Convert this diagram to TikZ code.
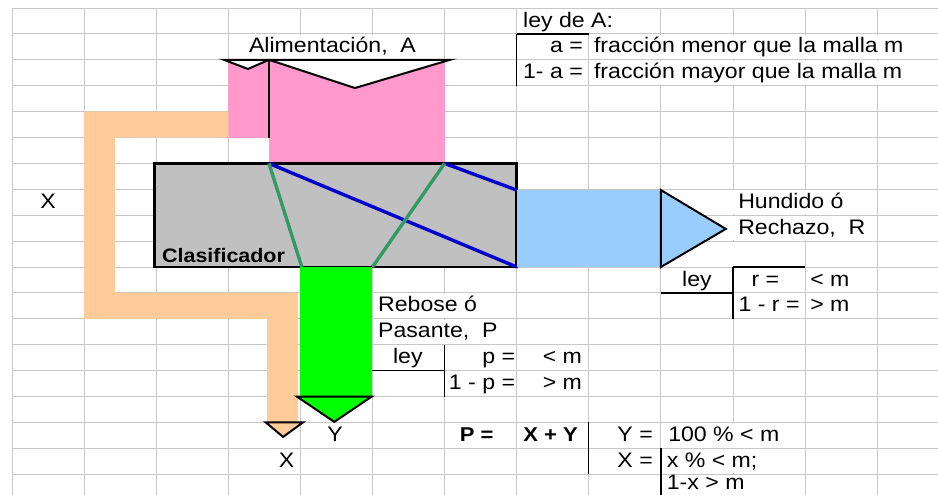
\documentclass[tikz,border=0pt]{standalone}
\usepackage{fontspec}
\setmainfont{Liberation Sans}[FakeStretch=1.1]
\usetikzlibrary{positioning}
\definecolor{feedpink}{HTML}{FF99CC}
\definecolor{pipeorange}{HTML}{FFCC99}
\definecolor{bodygray}{HTML}{C0C0C0}
\definecolor{rejblue}{HTML}{99CCFF}
\definecolor{passgreen}{HTML}{00FF00}
\definecolor{meshblue}{HTML}{0000CC}
\definecolor{meshgreen}{HTML}{339966}
\tikzset{
  grid line/.style={draw=black!22, line width=0.9pt},
  cell/.style={inner sep=0pt, font=\fontsize{21}{25}\selectfont},
  bold cell/.style={inner sep=0pt, font=\fontsize{20}{24}\selectfont\bfseries},
  outline/.style={draw=black, line width=2pt, line join=miter},
  rule/.style={draw=black, line width=1.3pt},
  screen/.style={line width=3.4pt},
}

\begin{document}
\begin{tikzpicture}[x=72.1pt, y=-25.9pt]
    \useasboundingbox (-0.1664,-0.3089) rectangle (12.8433,18.803);
    % spreadsheet grid
    \foreach \c in {0,...,12}
      \draw[grid line] (\c,0) -- (\c,18.803);
    \foreach \r in {0,...,18}
      \draw[grid line] (0,\r) -- (12.8433,\r);
    % cells where the text runs over
    \foreach \xa/\xb/\r in {7/9/0, 3/6/1, 8/12.85/1, 8/12.85/2, 9/12/7, 9/12/8,
                            9/11/9, 5/7/11, 5/7/12, 9/11/16, 9/11/17}
      \fill[white] (\xa+0.015,\r+0.03) rectangle (\xb-0.015,\r+0.97);
    \fill[white] (9.015,18.03) rectangle (10.985,18.803);

    % feed hopper
    \fill[feedpink] (3,2) rectangle (3.564,5);
    \fill[feedpink] (3.564,2) rectangle (6,6);
    \filldraw[fill=white, outline] (2.94,2) -- (3.273,2.355) -- (3.564,2)
      -- (4.757,3.09) -- (6.075,2) -- cycle;
    \draw[rule] (3.564,2) -- (3.564,5);

    % recycle pipe
    \fill[pipeorange] (1,4) -- (3,4) -- (3,5) -- (1.43,5) -- (1.43,11)
      -- (3.97,11) -- (3.97,16) -- (3.537,16) -- (3.537,12) -- (1,12) -- cycle;
    \filldraw[fill=pipeorange, outline] (3.52,16) -- (4.036,16) -- (3.76,16.56) -- cycle;

    % classifier
    \filldraw[fill=bodygray, outline, line width=2.6pt] (1.98,6) rectangle (7,10);
    \draw[meshblue, screen] (3.564,6) -- (7,10);
    \draw[meshblue, screen] (6,6) -- (7,7.03);
    \draw[meshgreen, screen] (3.564,6) -- (4.02,10);
    \draw[meshgreen, screen] (6,6) -- (5,10);

    % overflow and reject streams
    \fill[passgreen] (4,10) rectangle (5,15);
    \filldraw[fill=passgreen, outline] (3.95,15) -- (4.99,15) -- (4.47,15.98) -- cycle;
    \fill[rejblue] (7,7.03) rectangle (9,10);
    \filldraw[fill=rejblue, outline] (9,7.03) -- (9.9,8.53) -- (9,10) -- cycle;

    % table rules
    \draw[rule] (7,1) -- (8,1);
    \draw[rule] (7,1) -- (7,3);
    \draw[rule] (9,11) -- (10,11);
    \draw[rule] (10,10) -- (11,10);
    \draw[rule] (10,10) -- (10,12);
    \draw[rule] (5,14) -- (6,14);
    \draw[rule] (6,13) -- (6,15);
    \draw[rule] (8,16) -- (8,18);
    \draw[rule] (9,17) -- (9,18.803);

    % labels
    \node[cell, anchor=base] (feed) at (4.445,1.737) {Alimentación,~~A};
    \node[cell, anchor=base west] (lawA) at (7.087,0.737) {ley de A:};
    \node[cell, anchor=base east] (aeq) at (7.92,1.737) {a =};
    \node[cell, anchor=base west] (afine) at (8.07,1.737) {fracción menor que la malla m};
    \node[cell, anchor=base east] (beq) at (7.92,2.737) {1- a =};
    \node[cell, anchor=base west] (acoarse) at (8.07,2.737) {fracción mayor que la malla m};
    \node[cell, anchor=base] (xleft) at (0.5,7.737) {X};
    \node[bold cell, anchor=base west, font=\fontsize{19.5}{23}\selectfont\bfseries]
      (clas) at (2.08,9.82) {Clasificador};
    \node[cell, anchor=base west] (rej1) at (10.07,7.737) {Hundido ó};
    \node[cell, anchor=base west] (rej2) at (10.07,8.737) {Rechazo,~~R};
    \node[cell, anchor=base] (leyR) at (9.5,10.737) {ley};
    \node[cell, anchor=base] (req) at (10.45,10.737) {r =};
    \node[cell, anchor=base west] (rfine) at (11.07,10.737) {< m};
    \node[cell, anchor=base] (req2) at (10.5,11.737) {1 - r =};
    \node[cell, anchor=base west] (rcoarse) at (11.07,11.737) {> m};
    \node[cell, anchor=base west] (pas1) at (5.076,11.737) {Rebose ó};
    \node[cell, anchor=base west] (pas2) at (5.076,12.737) {Pasante,~~P};
    \node[cell, anchor=base] (leyP) at (5.49,13.737) {ley};
    \node[cell, anchor=base east] (peq) at (6.98,13.737) {p =};
    \node[cell, anchor=base west] (pfine) at (7.36,13.737) {< m};
    \node[cell, anchor=base east] (peq2) at (6.98,14.737) {1 - p =};
    \node[cell, anchor=base west] (pcoarse) at (7.36,14.737) {> m};
    \node[cell, anchor=base] (ylab) at (4.48,16.737) {Y};
    \node[cell, anchor=base] (xlab) at (3.81,17.737) {X};
    \node[bold cell, anchor=base west] (psum) at (6.21,16.737) {P =};
    \node[bold cell, anchor=base west] (xy) at (7.09,16.737) {X + Y};
    \node[cell, anchor=base east] (yeq) at (8.89,16.737) {Y =};
    \node[cell, anchor=base west] (yval) at (9.1,16.737) {100 \% < m};
    \node[cell, anchor=base east] (xeq) at (8.89,17.737) {X =};
    \node[cell, anchor=base west] (xval) at (9.08,17.737) {x \% < m;};
    \node[cell, anchor=base west] (xrest) at (9.08,18.6) {1-x > m};
\end{tikzpicture}
\end{document}
